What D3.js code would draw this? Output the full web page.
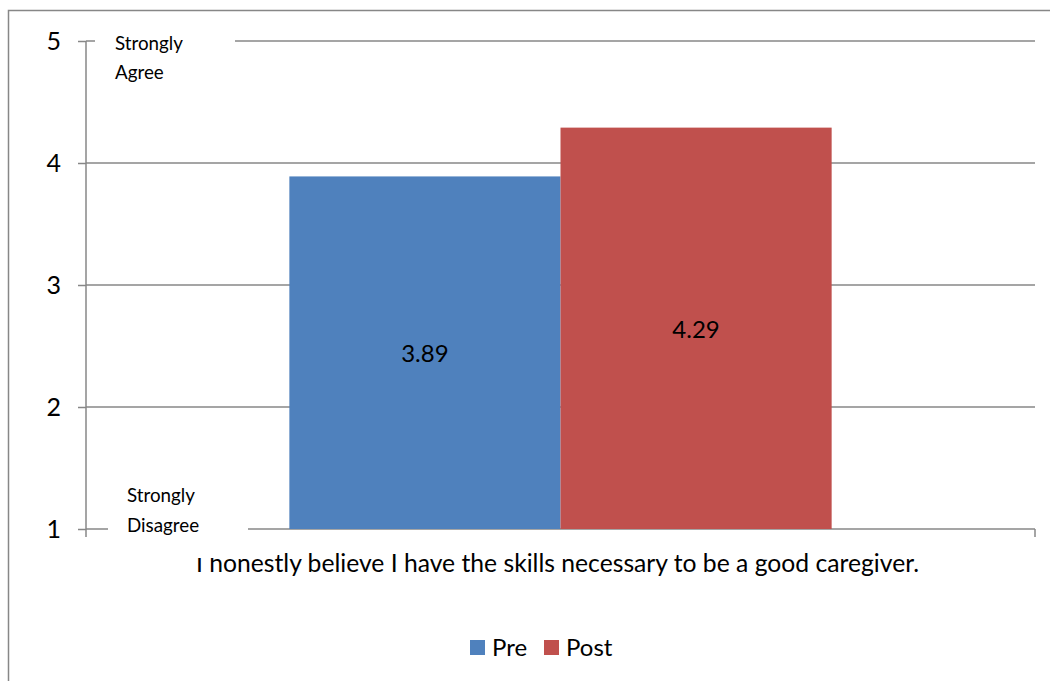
<!DOCTYPE html>
<html><head><meta charset="utf-8">
<script src="https://cdn.jsdelivr.net/npm/d3@7"></script>
<style>body{margin:0;background:#fff}svg{display:block}text{font-family:Lato,"Noto Sans",sans-serif;fill:#000}</style>
</head><body>
<script>
const categories = ["I honestly believe I have the skills necessary to be a good caregiver."];
const seriesNames = ["Pre", "Post"];
const preValues = [3.89];
const postValues = [4.29];
const yTicks = [1, 2, 3, 4, 5];
const colors = ["#4F81BD", "#C0504D"];

(function () {
const W = 1050, H = 681;
const svg = d3.select("body").append("svg").attr("width", W).attr("height", H);
svg.append("rect").attr("width", W).attr("height", H).attr("fill", "#fff");
svg.append("rect").attr("x", 8.5).attr("y", 10.5).attr("width", 1200).attr("height", 1000)
  .attr("fill", "none").attr("stroke", "#878787").attr("stroke-width", 1.5);

const pLeft = 86, pRight = 1035, pTop = 41, pBottom = 529;
const y = d3.scaleLinear().domain([1, 5]).range([pBottom, pTop]);
const x0 = d3.scaleBand().domain(categories).range([pLeft, pRight]).paddingInner(0).paddingOuter(0.375);
const x1 = d3.scaleBand().domain(seriesNames).range([0, x0.bandwidth()]).padding(0);
const gridColor = "#878787";

// gridlines
svg.append("g").selectAll("line").data(yTicks.filter(t => t > 1)).join("line")
  .attr("x1", pLeft).attr("x2", pRight).attr("y1", d => y(d)).attr("y2", d => y(d))
  .attr("stroke", gridColor).attr("stroke-width", 1.5);

// y axis
const yAxis = d3.axisLeft(y).tickValues(yTicks).tickSize(8).tickPadding(17).tickFormat(d3.format("d"));
const ya = svg.append("g").attr("transform", `translate(${pLeft},0)`).call(yAxis);
ya.select(".domain").remove();
ya.selectAll(".tick line").attr("stroke", gridColor).attr("stroke-width", 1.5);
ya.selectAll(".tick text").attr("font-size", 25).attr("font-family", "Lato").attr("fill", "#000");
svg.append("line").attr("x1", pLeft).attr("x2", pLeft).attr("y1", pTop).attr("y2", pBottom + 8)
  .attr("stroke", gridColor).attr("stroke-width", 1.5);

// x axis
svg.append("line").attr("x1", pLeft).attr("x2", pRight).attr("y1", pBottom).attr("y2", pBottom)
  .attr("stroke", gridColor).attr("stroke-width", 1.5);
svg.append("line").attr("x1", pRight).attr("x2", pRight).attr("y1", pBottom).attr("y2", pBottom + 8)
  .attr("stroke", gridColor).attr("stroke-width", 1.5);

// bars
const data = seriesNames.map((s, i) => ({ s, v: (i === 0 ? preValues : postValues)[0], c: categories[0], color: colors[i] }));
svg.append("g").selectAll("rect").data(data).join("rect")
  .attr("x", d => x0(d.c) + x1(d.s)).attr("width", x1.bandwidth())
  .attr("y", d => y(d.v)).attr("height", d => y(1) - y(d.v))
  .attr("fill", d => d.color);
svg.append("g").selectAll("text").data(data).join("text")
  .attr("x", d => x0(d.c) + x1(d.s) + x1.bandwidth() / 2)
  .attr("y", d => (y(d.v) + y(1)) / 2)
  .attr("text-anchor", "middle").attr("dominant-baseline", "central")
  .attr("font-size", 24).text(d => d3.format(".2f")(d.v));

// category label
svg.append("text").attr("x", 557.5).attr("y", 572)
  .attr("text-anchor", "middle").attr("font-size", 24.7).text(categories[0]);

// annotation boxes
svg.append("rect").attr("x", 95).attr("y", 22).attr("width", 140).attr("height", 70).attr("fill", "#fff");
svg.append("rect").attr("x", 108).attr("y", 476).attr("width", 140).attr("height", 82).attr("fill", "#fff");
const ann = [["Strongly", 115, 50], ["Agree", 115, 79], ["Strongly", 127, 502], ["Disagree", 127, 532]];
svg.append("g").selectAll("text").data(ann).join("text")
  .attr("x", d => d[1]).attr("y", d => d[2]).attr("font-size", 18.8).text(d => d[0]);

// legend
const lx = [470, 544];
const lg = svg.append("g").selectAll("g").data(seriesNames).join("g")
  .attr("transform", (d, i) => `translate(${lx[i]},640)`);
lg.append("rect").attr("width", 15).attr("height", 15).attr("fill", (d, i) => colors[i]);
lg.append("text").attr("x", 22).attr("y", 15.5).attr("font-size", 24).text(d => d);
})();
</script>
</body></html>
